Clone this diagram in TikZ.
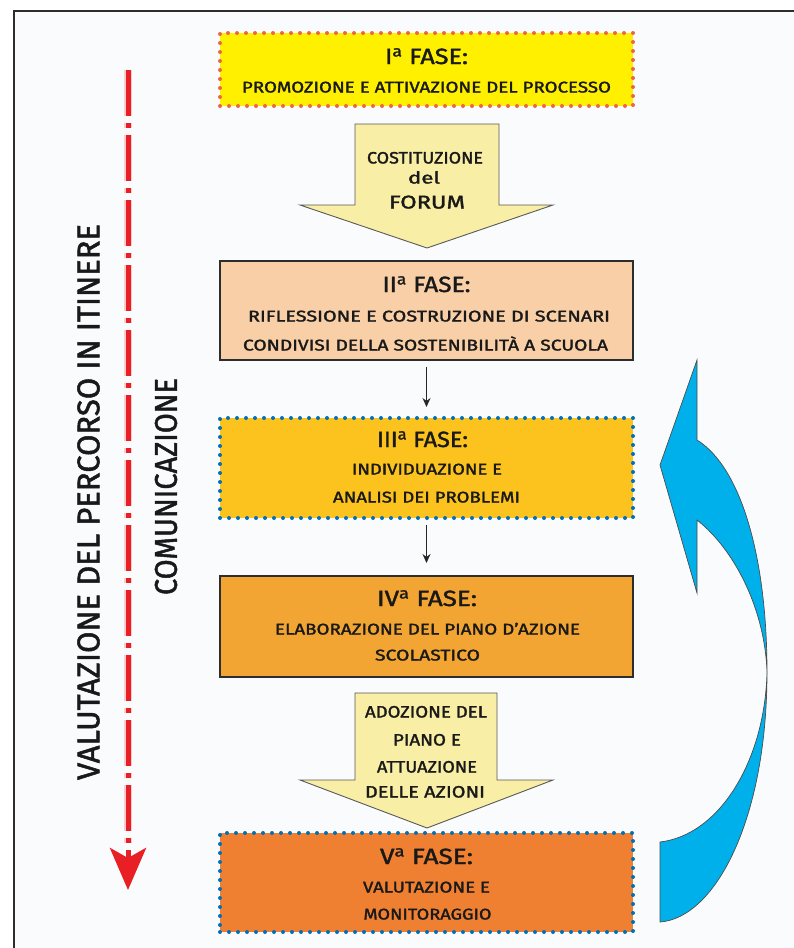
\documentclass[tikz,border=0pt]{standalone}
\usepackage{fontspec}
\setmainfont{Fira Sans}
\newfontfamily\mfont{Fira Sans}[FakeBold=1.6]
\usetikzlibrary{arrows.meta}
\definecolor{bgc}{RGB}{250,251,253}
\definecolor{framec}{RGB}{45,45,45}
\definecolor{yel}{RGB}{255,240,0}
\definecolor{reddot}{RGB}{240,100,70}
\definecolor{peach}{RGB}{248,207,166}
\definecolor{gold}{RGB}{252,195,30}
\definecolor{orA}{RGB}{242,165,50}
\definecolor{orB}{RGB}{239,128,50}
\definecolor{bluedot}{RGB}{0,112,185}
\definecolor{paley}{RGB}{248,238,165}
\definecolor{cyanA}{RGB}{0,176,234}
\definecolor{redl}{RGB}{232,32,38}
\definecolor{txt}{RGB}{25,25,25}
\newcommand\fitline[3]{\resizebox{#1pt}{\height}{\mfont\fontsize{#2}{#2}\selectfont #3}}
\tikzset{
  phase/.style={minimum width=413pt, minimum height=#1, inner sep=0pt, outer sep=0pt, anchor=north west},
  solidb/.style={draw=framec, line width=1.2pt},
  dotb/.style={draw=#1, line width=4pt, line cap=round, dash pattern=on 0pt off 9pt},
  lbl/.style={inner sep=0pt, outer sep=0pt, anchor=base, text=txt},
  blockarrow/.style={fill=paley, draw=black!65, line width=0.9pt, line join=miter},
  smallarrow/.style={-{Stealth[length=9pt,width=8pt]}, line width=1.4pt, black!85},
}
\begin{document}
\begin{tikzpicture}[x=1pt,y=-1pt]
\useasboundingbox (0,0) rectangle (794,948);
\fill[white] (0,0) rectangle (794,948);
\fill[bgc] (14,11) rectangle (794,948);
\draw[framec, line width=1.6pt] (14,948) -- (14,11) -- (794,11);

% phase boxes
\node[phase=73pt, fill=yel, dotb=reddot] (f1) at (220,33) {};
\node[phase=99pt, fill=peach, solidb] (f2) at (220,261) {};
\node[phase=100pt, fill=gold, dotb=bluedot] (f3) at (220,418) {};
\node[phase=101pt, fill=orA, solidb] (f4) at (220,576) {};
\node[phase=99pt, fill=orB, dotb=bluedot] (f5) at (220,833) {};

% texts in boxes
\node[lbl] (t1a) at (426.5,64) {\fitline{83}{22}{I\textsuperscript{a} FASE:}};
\node[lbl] (t1b) at (426.5,92.5) {\fitline{369}{15.5}{PROMOZIONE E ATTIVAZIONE DEL PROCESSO}};

\node[lbl] (t2a) at (426.5,292) {\fitline{88}{22}{II\textsuperscript{a} FASE:}};
\node[lbl] (t2b) at (429,321.5) {\fitline{362}{15.5}{RIFLESSIONE E COSTRUZIONE DI SCENARI}};
\node[lbl] (t2c) at (425.5,350.5) {\fitline{365}{15.5}{CONDIVISI DELLA SOSTENIBILITÀ A SCUOLA}};

\node[lbl] (t3a) at (422.5,447) {\fitline{91}{22}{III\textsuperscript{a} FASE:}};
\node[lbl] (t3b) at (427,474.5) {\fitline{150}{15.5}{INDIVIDUAZIONE E}};
\node[lbl] (t3c) at (426.5,502.5) {\fitline{187}{15.5}{ANALISI DEI PROBLEMI}};

\node[lbl] (t4a) at (427,606) {\fitline{100}{22}{IV\textsuperscript{a} FASE:}};
\node[lbl] (t4b) at (427.5,634.5) {\fitline{305}{15.5}{ELABORAZIONE DEL PIANO D’AZIONE}};
\node[lbl] (t4c) at (427.5,660.5) {\fitline{105}{15.5}{SCOLASTICO}};

\node[lbl] (t5a) at (426.5,864) {\fitline{93}{22}{V\textsuperscript{a} FASE:}};
\node[lbl] (t5b) at (426.5,892.5) {\fitline{127}{15.5}{VALUTAZIONE E}};
\node[lbl] (t5c) at (427.5,919.5) {\fitline{128}{15.5}{MONITORAGGIO}};

% block arrow 1
\draw[blockarrow] (355,124) -- (499,124) -- (499,205) -- (553,205) -- (427,248) -- (300,205) -- (355,205) -- cycle;
\node[lbl] (a1a) at (425,163.5) {\fitline{116}{16.5}{COSTITUZIONE}};
\node[lbl] (a1b) at (424,183.5) {\fitline{32}{16.5}{del}};
\node[lbl] (a1c) at (427,208.5) {\fitline{76}{18.5}{FORUM}};

% block arrow 2
\draw[blockarrow] (355,693) -- (497,693) -- (497,780) -- (553,780) -- (427,828) -- (300,780) -- (355,780) -- cycle;
\node[lbl] (a2a) at (426,717.5) {\fitline{122}{16.5}{ADOZIONE DEL}};
\node[lbl] (a2b) at (427,745.5) {\fitline{68}{16.5}{PIANO E}};
\node[lbl] (a2c) at (427,772.5) {\fitline{100}{16.5}{ATTUAZIONE}};
\node[lbl] (a2d) at (425,797.5) {\fitline{120}{16.5}{DELLE AZIONI}};

% small arrows
\draw[smallarrow, shorten <=7pt, shorten >=11pt] (f2.south) -- (f3.north);
\draw[smallarrow, shorten <=7pt, shorten >=13pt] (f3.south) -- (f4.north);

% blue curved arrow
\fill[cyanA, draw=black!70, line width=0.7pt, line join=miter]
  (697,440) .. controls (742,468) and (767,560) .. (767,672)
  .. controls (767,820) and (715,918) .. (660,922)
  -- (660,842)
  .. controls (720,835) and (765,760) .. (767,672)
  .. controls (765,610) and (735,550) .. (697,520)
  -- (697,593) -- (660,465) -- (697,360) -- cycle;

% red dash-dot arrow
\coordinate (rs) at (128,70);
\coordinate (re) at (128,890);
\draw[redl!22, line width=8.5pt, dash pattern=on 46pt off 7pt on 5pt off 7pt, shorten >=40pt] (rs) -- (re);
\draw[redl, line width=5pt, dash pattern=on 46pt off 7pt on 5pt off 7pt,
  -{Stealth[length=42pt,width=36pt,inset=10pt]}] (rs) -- (re);

% side texts
\node[inner sep=0pt, rotate=90, text=txt] (sv) at (88.5,502) {\resizebox{556pt}{22pt}{\mfont\fontsize{30}{30}\selectfont VALUTAZIONE DEL PERCORSO IN ITINERE}};
\node[inner sep=0pt, rotate=90, text=txt] (sc) at (166,486.5) {\resizebox{217pt}{22pt}{\mfont\fontsize{30}{30}\selectfont COMUNICAZIONE}};
\end{tikzpicture}
\end{document}
